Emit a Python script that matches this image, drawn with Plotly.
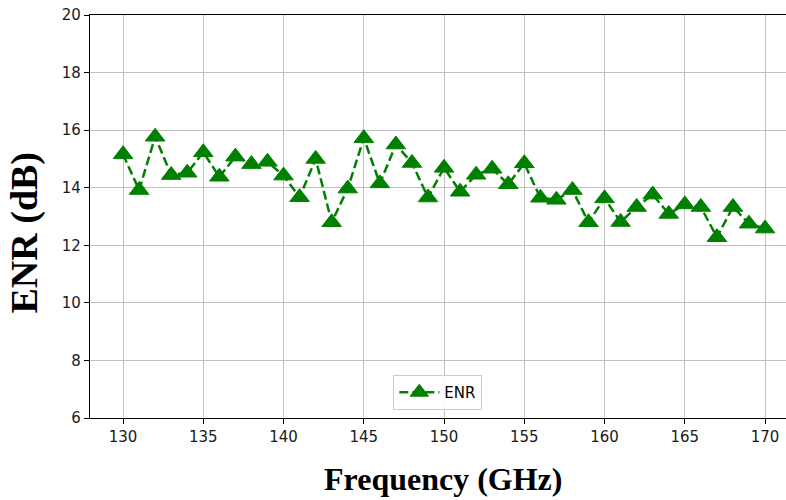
import plotly.graph_objects as go

freq = list(range(130, 171))
enr = [15.16, 13.92, 15.77, 14.44, 14.52, 15.23, 14.38, 15.08, 14.82, 14.90,
       14.42, 13.67, 15.00, 12.80, 13.97, 15.72, 14.15, 15.50, 14.86, 13.66,
       14.69, 13.86, 14.45, 14.66, 14.12, 14.85, 13.65, 13.58, 13.92, 12.80,
       13.63, 12.81, 13.33, 13.76, 13.09, 13.42, 13.33, 12.28, 13.33, 12.75,
       12.58]
x_ticks = [130, 135, 140, 145, 150, 155, 160, 165, 170]
y_ticks = [6, 8, 10, 12, 14, 16, 18, 20]

green = "#008000"

fig = go.Figure()
fig.add_trace(go.Scatter(
    x=freq, y=enr, mode="lines+markers", name="ENR",
    line=dict(color=green, width=2.5, dash="9px,4px"),
    marker=dict(symbol="triangle-up", size=17, color=green,
                line=dict(color=green, width=1)),
))

axis_common = dict(
    showline=True, linecolor="black", linewidth=1.2, mirror=True,
    ticks="outside", ticklen=5, tickcolor="black", tickwidth=1,
    showgrid=True, gridcolor="#c0c0c0", gridwidth=1, zeroline=False,
    automargin=False,
    tickfont=dict(family="DejaVu Sans", size=15, color="#1a1a1a"),
)

fig.update_layout(
    width=792, height=500,
    margin=dict(l=90, r=0, t=15, b=82),
    paper_bgcolor="white", plot_bgcolor="white",
    xaxis=dict(range=[127.94, 171.68], tickvals=x_ticks, **axis_common),
    yaxis=dict(range=[6, 20], tickvals=y_ticks, **axis_common),
    showlegend=True,
    legend=dict(x=0.4955, xanchor="center", y=0.02, yanchor="bottom",
                bgcolor="rgba(255,255,255,0.9)", bordercolor="#cccccc",
                borderwidth=1, itemwidth=40,
                font=dict(family="DejaVu Sans", size=15, color="black")),
    annotations=[
        dict(text="<b>Frequency (GHz)</b>", xref="paper", yref="paper",
             x=0.5, y=0, xanchor="center", yanchor="middle",
             xshift=2, yshift=-61, showarrow=False,
             font=dict(family="Liberation Serif", size=32, color="black")),
        dict(text="<b>ENR (dB)</b>", xref="paper", yref="paper",
             x=0, y=0.5, xanchor="center", yanchor="middle",
             xshift=-66, yshift=-16, textangle=-90, showarrow=False,
             font=dict(family="Liberation Serif", size=38, color="black")),
    ],
)

fig.write_html("out.html",
               config={"displayModeBar": False},
               post_script="document.body.style.margin='0';document.body.style.overflow='hidden';")
